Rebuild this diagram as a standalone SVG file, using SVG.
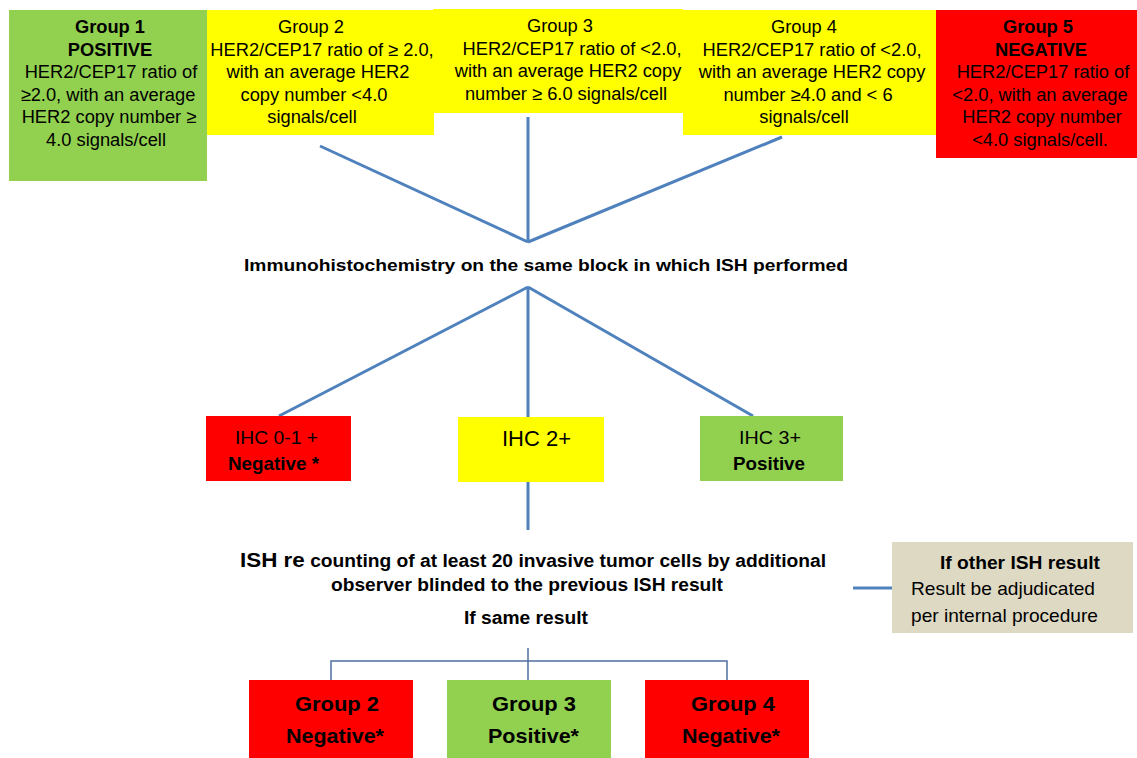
<svg xmlns="http://www.w3.org/2000/svg" width="1137" height="758" viewBox="0 0 1137 758">
<style>
text{font-family:"Liberation Sans",Arial,sans-serif;fill:#000;}
.t{font-size:18.3px;text-anchor:middle;}
.b{font-weight:bold;}
.c{text-anchor:middle;}
.conn{stroke:#4F81BD;stroke-width:3;fill:none;}
.thin{stroke:#4F6FA0;stroke-width:1.5;fill:none;}
</style>
<rect width="1137" height="758" fill="#fff"/>
<g id="connectors">
<line class="conn" x1="320" y1="146" x2="528" y2="242"/>
<line class="conn" x1="528" y1="117" x2="528" y2="242"/>
<line class="conn" x1="782" y1="137" x2="528" y2="242"/>
<line class="conn" x1="528" y1="287" x2="279" y2="416"/>
<line class="conn" x1="528" y1="287" x2="528" y2="417"/>
<line class="conn" x1="528" y1="287" x2="753" y2="416"/>
<line class="conn" x1="528" y1="482" x2="528" y2="530"/>
<line class="conn" x1="853" y1="588" x2="892" y2="588"/>
<path class="thin" d="M528,648 V680 M331,680 V661 H727 V680"/>
</g>
<g id="group1">
<rect x="9" y="10" width="198" height="171" fill="#92D050"/>
<text class="t b" x="110" y="33">Group 1</text>
<text class="t b" x="110" y="55.5">POSITIVE</text>
<text class="t" x="111" y="78">HER2/CEP17 ratio of</text>
<text class="t" x="108" y="100.5">≥2.0, with an average</text>
<text class="t" x="109" y="123">HER2 copy number ≥</text>
<text class="t" x="106" y="145.5">4.0 signals/cell</text>
</g>
<g id="group2">
<rect x="207" y="10" width="227" height="125" fill="#FFFF00"/>
<text class="t" x="311" y="33">Group 2</text>
<text class="t" x="322" y="55.5">HER2/CEP17 ratio of ≥ 2.0,</text>
<text class="t" x="318" y="78">with an average HER2</text>
<text class="t" x="314" y="100.5">copy number &lt;4.0</text>
<text class="t" x="312" y="123">signals/cell</text>
</g>
<g id="group3">
<rect x="433" y="9" width="250" height="104" fill="#FFFF00"/>
<text class="t" x="560" y="32">Group 3</text>
<text class="t" x="572" y="54.5">HER2/CEP17 ratio of &lt;2.0,</text>
<text class="t" x="568" y="77">with an average HER2 copy</text>
<text class="t" x="566" y="99.5">number ≥ 6.0 signals/cell</text>
</g>
<g id="group4">
<rect x="683" y="10" width="253" height="125" fill="#FFFF00"/>
<text class="t" x="804" y="33">Group 4</text>
<text class="t" x="812" y="55.5">HER2/CEP17 ratio of &lt;2.0,</text>
<text class="t" x="812" y="78">with an average HER2 copy</text>
<text class="t" x="808" y="100.5">number ≥4.0 and &lt; 6</text>
<text class="t" x="804" y="123">signals/cell</text>
</g>
<g id="group5">
<rect x="936" y="10" width="201" height="148" fill="#FF0000"/>
<text class="t b" x="1038" y="33">Group 5</text>
<text class="t b" x="1041" y="55.5">NEGATIVE</text>
<text class="t" x="1043" y="78">HER2/CEP17 ratio of</text>
<text class="t" x="1040" y="100.5">&lt;2.0, with an average</text>
<text class="t" x="1042" y="123">HER2 copy number</text>
<text class="t" x="1040" y="145.5">&lt;4.0 signals/cell.</text>
</g>
<g id="ihc-text">
<text class="b" x="244" y="271" font-size="17" textLength="604" lengthAdjust="spacingAndGlyphs">Immunohistochemistry on the same block in which ISH performed</text>
</g>
<g id="ihc01">
<rect x="206" y="416" width="145" height="65" fill="#FF0000"/>
<text x="235" y="444" font-size="19" textLength="83" lengthAdjust="spacingAndGlyphs">IHC 0-1 +</text>
<text class="b" x="228" y="470" font-size="19" textLength="91" lengthAdjust="spacingAndGlyphs">Negative *</text>
</g>
<g id="ihc2">
<rect x="458" y="417" width="146" height="65" fill="#FFFF00"/>
<text x="502" y="446" font-size="21.5" textLength="69" lengthAdjust="spacingAndGlyphs">IHC 2+</text>
</g>
<g id="ihc3">
<rect x="700" y="416" width="143" height="65" fill="#92D050"/>
<text x="739" y="444" font-size="19" textLength="62" lengthAdjust="spacingAndGlyphs">IHC 3+</text>
<text class="b" x="733" y="470" font-size="19" textLength="72" lengthAdjust="spacingAndGlyphs">Positive</text>
</g>
<g id="ish-recount">
<text class="b" x="240" y="567" font-size="18" textLength="586" lengthAdjust="spacingAndGlyphs"><tspan font-size="21">ISH re</tspan> counting of at least 20 invasive tumor cells by additional</text>
<text class="b" x="331" y="591" font-size="18" textLength="392" lengthAdjust="spacingAndGlyphs">observer blinded to the previous ISH result</text>
<text class="b" x="464" y="624" font-size="18" textLength="124" lengthAdjust="spacingAndGlyphs">If same result</text>
</g>
<g id="other-result">
<rect x="892" y="542" width="241" height="91" fill="#DDD9C3"/>
<text class="b" x="940" y="569" font-size="18.5" textLength="160" lengthAdjust="spacingAndGlyphs">If other ISH result</text>
<text x="911" y="595" font-size="18.5" textLength="184" lengthAdjust="spacingAndGlyphs">Result be adjudicated</text>
<text x="911" y="622" font-size="18.5" textLength="187" lengthAdjust="spacingAndGlyphs">per internal procedure</text>
</g>
<g id="res-group2">
<rect x="249" y="680" width="164" height="78" fill="#FF0000"/>
<text class="b" x="295" y="711" font-size="21" textLength="84" lengthAdjust="spacingAndGlyphs">Group 2</text>
<text class="b" x="286" y="743" font-size="21" textLength="98" lengthAdjust="spacingAndGlyphs">Negative*</text>
</g>
<g id="res-group3">
<rect x="447" y="680" width="164" height="78" fill="#92D050"/>
<text class="b" x="492" y="711" font-size="21" textLength="84" lengthAdjust="spacingAndGlyphs">Group 3</text>
<text class="b" x="488" y="743" font-size="21" textLength="91" lengthAdjust="spacingAndGlyphs">Positive*</text>
</g>
<g id="res-group4">
<rect x="645" y="680" width="164" height="78" fill="#FF0000"/>
<text class="b" x="691" y="711" font-size="21" textLength="84" lengthAdjust="spacingAndGlyphs">Group 4</text>
<text class="b" x="682" y="743" font-size="21" textLength="98" lengthAdjust="spacingAndGlyphs">Negative*</text>
</g>
</svg>
